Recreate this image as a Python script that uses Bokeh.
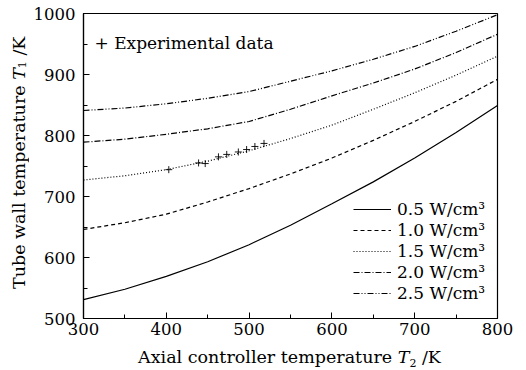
import math
from bokeh.plotting import figure
from bokeh.models import Label, SingleIntervalTicker, Range1d, Div
from bokeh.layouts import row, column
from bokeh.embed import file_html
from bokeh.resources import INLINE

# ---- data ----
t2 = [300, 350, 400, 450, 500, 550, 600, 650, 700, 750, 800]
q05 = [531, 548, 569, 593, 621, 653, 688, 724, 763, 805, 849]
q10 = [646, 657, 671, 691, 713, 737, 763, 792, 823, 856, 892]
q15 = [727, 734, 744, 758, 775, 795, 817, 843, 870, 899, 930]
q20 = [789, 794, 802, 811, 823, 843, 865, 886, 909, 936, 966]
q25 = [841, 845, 852, 861, 872, 889, 906, 925, 946, 971, 998]
exp_x = [403, 439, 447, 463, 473, 487, 497, 507, 518]
exp_y = [744, 755, 754, 765, 769, 773, 777, 782, 787]
series_labels = ["0.5 W/cm³", "1.0 W/cm³", "1.5 W/cm³", "2.0 W/cm³", "2.5 W/cm³"]
x_title = ("Axial controller temperature ", "T", "2", " /K")
y_title = ("Tube wall temperature ", "T", "1", " /K")

FONT = "DejaVu Serif"
W_LEFT = 30     # width of the y-title strip
H_BOTTOM = 24   # height of the x-title strip
FIG_W = 526 - W_LEFT
FIG_H = 370 - H_BOTTOM
BL = 82 - W_LEFT
BR = 29

p = figure(width=FIG_W, height=FIG_H, output_backend="svg", toolbar_location=None,
           x_range=Range1d(300, 800), y_range=Range1d(500, 1000),
           min_border_left=BL, min_border_right=BR, min_border_top=13,
           min_border_bottom=FIG_H - 318, margin=0)
p.background_fill_color = "white"
p.border_fill_color = "white"
p.outline_line_color = "black"
p.outline_line_width = 1.2
p.xgrid.visible = False
p.ygrid.visible = False

for ax in (p.xaxis[0], p.yaxis[0]):
    ax.ticker = SingleIntervalTicker(interval=100, num_minor_ticks=2)
    ax.major_tick_in = 6
    ax.major_tick_out = 0
    ax.minor_tick_in = 4
    ax.minor_tick_out = 0
    ax.axis_line_color = "black"
    ax.axis_line_width = 1.2
    ax.major_tick_line_color = "black"
    ax.minor_tick_line_color = "black"
    ax.major_label_text_font = FONT
    ax.major_label_text_font_size = "16.5px"
    ax.major_label_text_color = "black"
p.xaxis.major_label_standoff = 4
p.yaxis.major_label_standoff = 8

dashes = ["solid", "4 3", "1 2", "6 2 1 2", "6 2 1 2 1 2"]
for ys, lab_, d in zip([q05, q10, q15, q20, q25], series_labels, dashes):
    p.line(t2, ys, line_color="black", line_width=1.2, line_dash=d, legend_label=lab_)

p.scatter(exp_x, exp_y, marker="cross", size=7, line_color="black", line_width=0.9)

lg = p.legend[0]
lg.location = (270, 15)
lg.padding = 0
lg.margin = 0
lg.spacing = 1
lg.label_height = 20
lg.glyph_height = 20
lg.glyph_width = 38
lg.label_standoff = 6
lg.label_text_font = FONT
lg.label_text_font_size = "17px"
lg.label_text_color = "black"
lg.border_line_alpha = 0
lg.background_fill_alpha = 0

p.add_layout(Label(x=11, y=276, x_units="screen", y_units="screen",
                   text="+ Experimental data", text_font=FONT, text_font_size="17px",
                   text_color="black", text_baseline="alphabetic"))

def title_html(parts):
    a, t, s, b = parts
    return (f"{a}<i>{t}</i><span style=\"font-size:11px; vertical-align:-4px\">{s}</span>{b}")

base_css = (f"font-family:'{FONT}'; font-size:17.5px; line-height:20px; "
            "white-space:nowrap; color:black;")

xdiv = Div(width=FIG_W, height=H_BOTTOM, margin=0,
           text=(f"<div style=\"{base_css} box-sizing:border-box; width:{FIG_W}px; "
                 f"padding-left:{BL - BR}px; margin-top:1px; text-align:center;\">"
                 f"{title_html(x_title)}</div>"))

ydiv = Div(width=W_LEFT, height=370, margin=0,
           text=(f"<div style=\"{base_css} width:20px; height:325px; margin-left:9px; "
                 "writing-mode:vertical-rl; transform:rotate(180deg); text-align:center;\">"
                 f"{title_html(y_title)}</div>"))

layout = row(ydiv, column(p, xdiv, spacing=0, margin=0), spacing=0, margin=0)

open("out.html", "w").write(file_html(layout, INLINE))
